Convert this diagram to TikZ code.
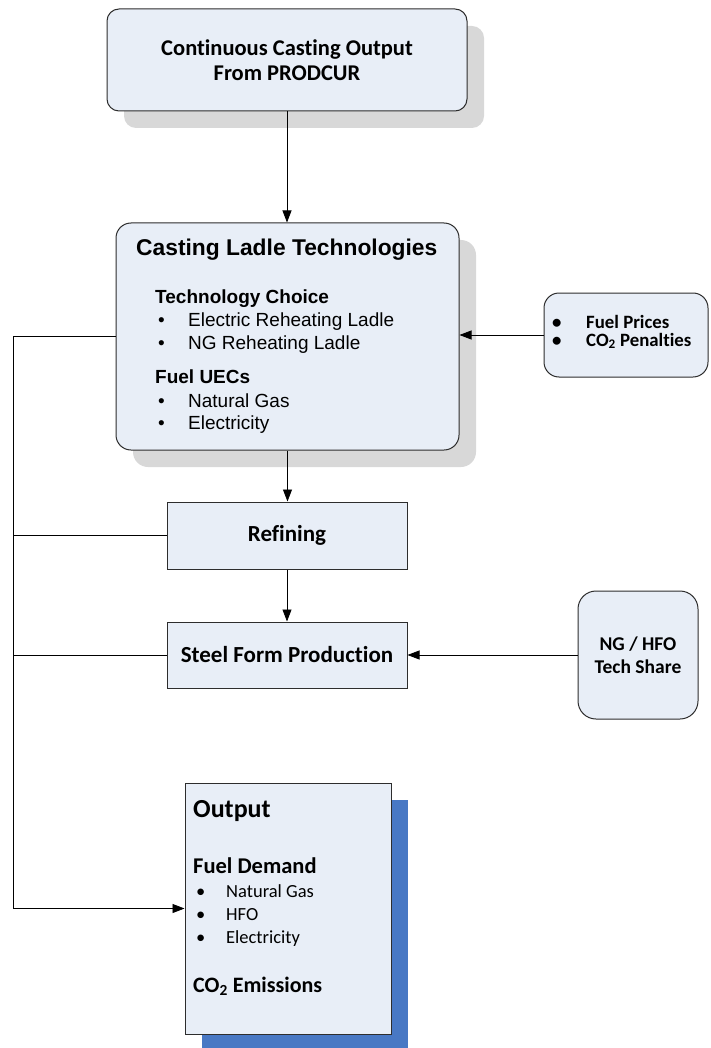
\documentclass[tikz,border=0pt]{standalone}
\usepackage{fontspec}
\setmainfont{Carlito}[Ligatures=NoCommon]
\newfontfamily\arialfont{Liberation Sans}
\usetikzlibrary{arrows.meta,shadows}

\definecolor{boxfill}{RGB}{232,238,247}
\definecolor{boxline}{RGB}{45,45,45}
\definecolor{shadowgray}{RGB}{216,216,216}
\definecolor{shadowblue}{RGB}{72,120,196}

\newcommand{\bul}[1]{\makebox[30pt][l]{\textbullet}#1}
\newcommand{\fsz}[1]{\fontsize{#1}{#1}\selectfont}

\tikzset{
  box/.style={draw=boxline, line width=1pt, fill=boxfill, inner sep=0pt, align=center},
  grayshadow/.style={drop shadow={shadow xshift=17pt, shadow yshift=-17pt, opacity=1, fill=shadowgray}},
  blueshadow/.style={drop shadow={shadow xshift=17pt, shadow yshift=-17pt, opacity=1, fill=shadowblue}},
  txt/.style={anchor=base west, inner sep=0pt},
  conn/.style={line width=0.8pt},
  flow/.style={conn, -{Triangle[length=12pt,width=9pt]}}
}

\begin{document}
\begin{tikzpicture}[x=1pt, y=-1pt]
    \useasboundingbox (0,0) rectangle (710,1048);

    % boxes
    \node[box, grayshadow, rounded corners=12pt, minimum width=360pt, minimum height=102pt,
          font=\bfseries\fsz{22.5}, text depth=0pt] (top) at (287,60)
          {Continuous Casting Output\\[2pt]From PRODCUR};
    \node[box, grayshadow, rounded corners=15pt, minimum width=343pt, minimum height=227pt] (cast) at (287.5,336.5) {};
    \node[box, rounded corners=15pt, minimum width=164pt, minimum height=84pt] (fuel) at (626,335) {};
    \node[box, minimum width=240pt, minimum height=67pt, font=\bfseries\fsz{23}] (refin) at (287,535.5) {Refining};
    \node[box, minimum width=240pt, minimum height=66pt, font=\bfseries\fsz{23}] (steel) at (287,655) {Steel Form Production};
    \node[box, rounded corners=18pt, minimum width=120pt, minimum height=128pt,
          font=\bfseries\fsz{19.5}] (share) at (638,655) {NG / HFO\\[4pt]Tech Share};
    \node[box, blueshadow, minimum width=206pt, minimum height=251pt] (out) at (288,908.5) {};

    % casting ladle text
    \node[txt, font=\arialfont\bfseries\fsz{22.8}] (casttitle) at (136,256) {Casting Ladle Technologies};
    \node[txt, font=\arialfont\bfseries\fsz{19}] (techhead) at (155,303) {Technology Choice};
    \node[txt, font=\arialfont\fsz{19}] (tech1) at (158,326) {\bul{Electric Reheating Ladle}};
    \node[txt, font=\arialfont\fsz{19}] (tech2) at (158,349) {\bul{NG Reheating Ladle}};
    \node[txt, font=\arialfont\bfseries\fsz{19}] (uechead) at (155,383) {Fuel UECs};
    \node[txt, font=\arialfont\fsz{19}] (uec1) at (158,407) {\bul{Natural Gas}};
    \node[txt, font=\arialfont\fsz{19}] (uec2) at (158,429) {\bul{Electricity}};

    % fuel prices text
    \node[txt, font=\bfseries\fsz{18.8}] (price1) at (552,328) {\makebox[34pt][l]{\textbullet}Fuel Prices};
    \node[txt, font=\bfseries\fsz{18.8}] (price2) at (552,346) {\makebox[34pt][l]{\textbullet}CO\textsubscript{2} Penalties};

    % output text
    \node[txt, font=\bfseries\fsz{26}] (outhead) at (193,817) {Output};
    \node[txt, font=\bfseries\fsz{22.5}] (demhead) at (193,873) {Fuel Demand};
    \node[txt, font=\fsz{18.5}] (dem1) at (196,897) {\bul{Natural Gas}};
    \node[txt, font=\fsz{18.5}] (dem2) at (196,920) {\bul{HFO}};
    \node[txt, font=\fsz{18.5}] (dem3) at (196,943) {\bul{Electricity}};
    \node[txt, font=\bfseries\fsz{22}] (emis) at (193,992) {CO\textsubscript{2} Emissions};

    % connectors
    \coordinate (bus) at (13,336.5);
    \draw[flow] (top.south) -- (top.south |- cast.north);
    \draw[flow] (fuel.west) -- (fuel.west -| cast.east);
    \draw[flow] (cast.south) -- (cast.south |- refin.north);
    \draw[flow] (refin.south) -- (steel.north);
    \draw[flow] (share.west) -- (steel.east);
    \draw[flow] (cast.west) -- (bus) |- (out.west);
    \draw[conn] (refin.west) -- (refin.west -| bus);
    \draw[conn] (steel.west) -- (steel.west -| bus);
\end{tikzpicture}
\end{document}
